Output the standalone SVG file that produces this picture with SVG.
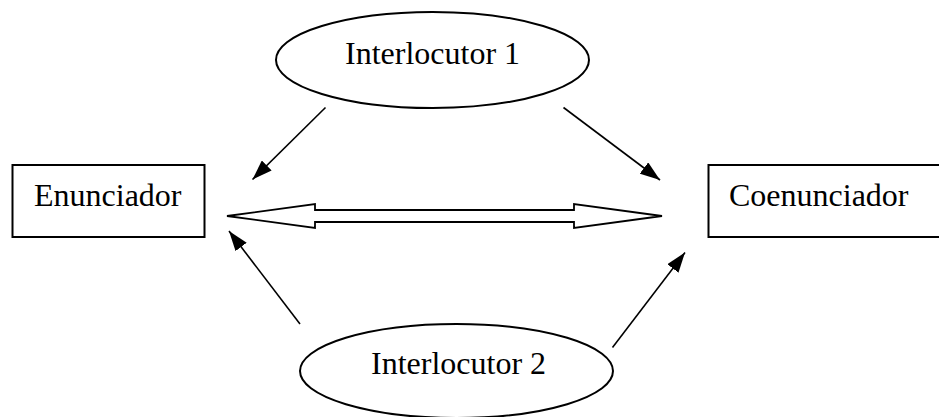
<svg xmlns="http://www.w3.org/2000/svg" width="939" height="417" viewBox="0 0 939 417">
  <style>
    .shape { fill: #ffffff; stroke: #000000; stroke-width: 2; }
    .label { font-family: "Liberation Serif", "Times New Roman", serif; font-size: 32px; fill: #000000; }
    .conn { stroke: #000000; stroke-width: 1.6; fill: none; marker-end: url(#arrow); }
    .dbl { fill: #ffffff; stroke: #000000; stroke-width: 1.8; stroke-linejoin: miter; }
  </style>
  <defs>
    <marker id="arrow" viewBox="0 0 20 14" refX="20" refY="7" markerWidth="20" markerHeight="14" markerUnits="userSpaceOnUse" orient="auto">
      <path d="M0,0 L20,7 L0,14 Z" fill="#000000"/>
    </marker>
  </defs>
  <rect width="939" height="417" fill="#ffffff"/>

  <g id="interlocutor1">
    <ellipse class="shape" cx="432.5" cy="60" rx="156.5" ry="48"/>
    <text class="label" x="345" y="64">Interlocutor 1</text>
  </g>

  <g id="interlocutor2">
    <ellipse class="shape" cx="456.5" cy="371" rx="156.5" ry="47"/>
    <text class="label" x="371" y="374">Interlocutor 2</text>
  </g>

  <g id="enunciador">
    <rect class="shape" x="12.5" y="165" width="192" height="72"/>
    <text class="label" x="34" y="206">Enunciador</text>
  </g>

  <g id="coenunciador">
    <rect class="shape" x="708.5" y="165" width="240" height="72"/>
    <text class="label" x="729" y="206">Coenunciador</text>
  </g>

  <g id="connectors">
    <polygon class="dbl" points="227,216 315,204 315,210 574,210 574,204 662,216 574,228 574,222 315,222 315,228"/>
    <line class="conn" x1="325.5" y1="107.5" x2="252.5" y2="179.5"/>
    <line class="conn" x1="563.5" y1="107.5" x2="660" y2="180"/>
    <line class="conn" x1="300" y1="324" x2="229" y2="231"/>
    <line class="conn" x1="612.5" y1="347.5" x2="685" y2="252.5"/>
  </g>
</svg>
